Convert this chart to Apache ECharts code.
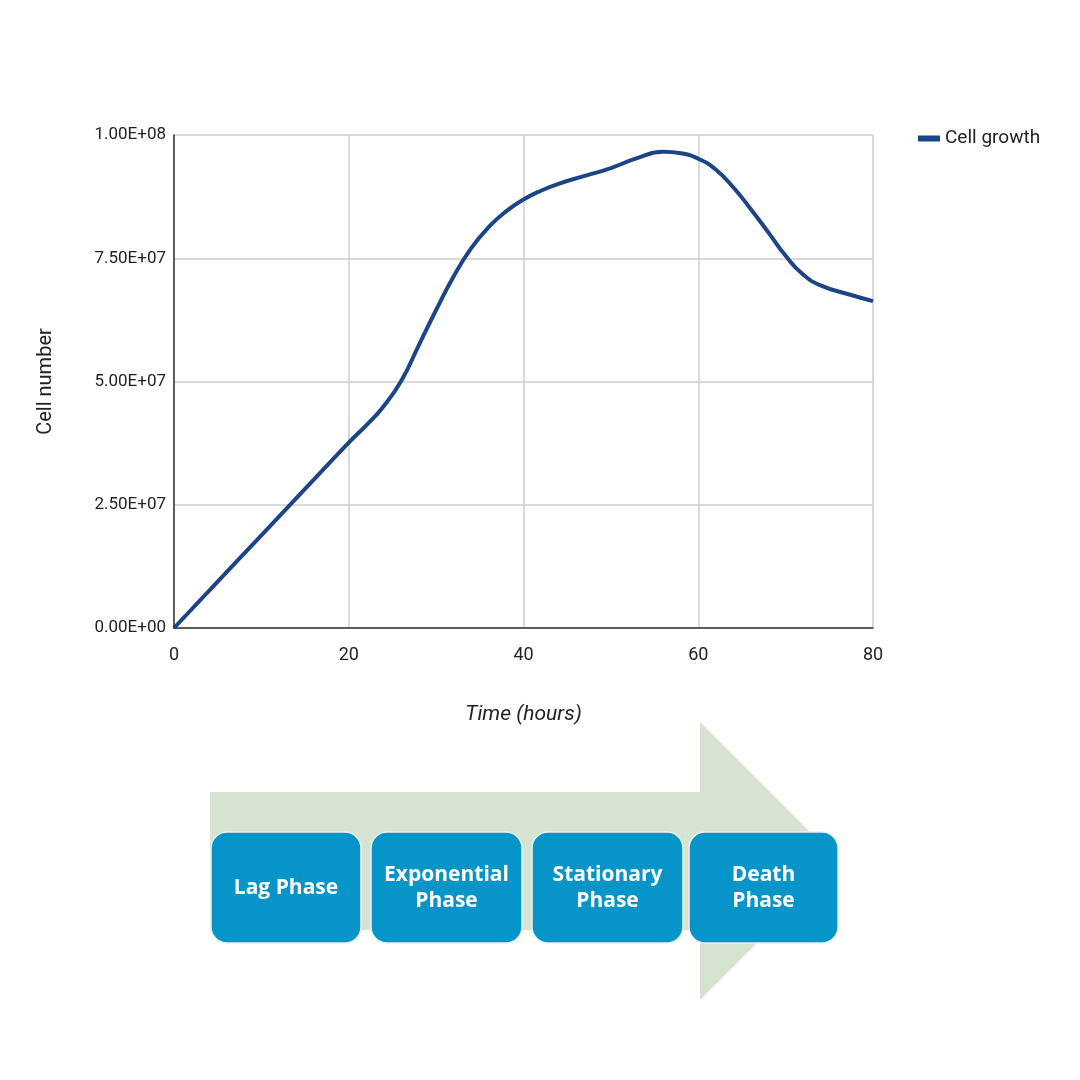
<!DOCTYPE html>
<html><head><meta charset="utf-8">
<script src="https://cdn.jsdelivr.net/npm/echarts@6/dist/echarts.min.js"></script>
<style>html,body{margin:0;padding:0;background:#fff}#c{width:1080px;height:1080px}</style>
</head><body><div id="c"></div>
<script>
var hours = [0, 5, 10, 15, 20, 22, 24, 26, 28, 30, 32, 34, 36, 38, 40, 42, 44, 47, 50, 53, 56, 58, 60, 62, 64, 66, 68, 70, 72, 74, 77, 80];
var cells = [0, 9.4e6, 18.8e6, 28.2e6, 37.6e6, 41.1e6, 45.0e6, 50.1e6, 57.3e6, 64.5e6, 71.3e6, 77.0e6, 81.3e6, 84.5e6, 86.9e6, 88.7e6, 90.1e6, 91.7e6, 93.3e6, 95.3e6, 96.6e6, 96.3e6, 95.2e6, 93.0e6, 89.4e6, 85.0e6, 80.3e6, 75.5e6, 71.7e6, 69.5e6, 67.8e6, 66.3e6];
var yTickLabels = ['0.00E+00', '2.50E+07', '5.00E+07', '7.50E+07', '1.00E+08'];
var xTickLabels = ['0', '20', '40', '60', '80'];
var phases = ['Lag Phase', 'Exponential\nPhase', 'Stationary\nPhase', 'Death\nPhase'];
var seriesName = 'Cell growth';

var chart = echarts.init(document.getElementById('c'));
var boxX = [211, 371, 532, 689];
var boxW = [150, 151, 151, 149];
var graphics = [{
  type: 'polygon', z: 0,
  shape: { points: [[210, 792], [700, 792], [700, 722], [839, 861], [700, 1000], [700, 930], [210, 930]] },
  style: { fill: '#d5e3d0' }
}];
phases.forEach(function (p, i) {
  graphics.push({
    type: 'rect', z: 1,
    shape: { x: boxX[i], y: 832, width: boxW[i], height: 111, r: 16 },
    style: { fill: '#0795c9', stroke: '#e8f2f6', lineWidth: 1.5 }
  });
  graphics.push({
    type: 'text', z: 2,
    style: {
      x: boxX[i] + boxW[i] / 2, y: 888, text: p, fill: '#ffffff',
      font: 'bold 21px "Open Sans", sans-serif', align: 'center', verticalAlign: 'middle', lineHeight: 26
    }
  });
});

chart.setOption({
  animation: false,
  backgroundColor: '#ffffff',
  grid: { left: 174, right: 207, top: 135, bottom: 452 },
  legend: {
    data: [seriesName], left: 913, top: 124, itemWidth: 22, itemHeight: 6, itemGap: 12,
    icon: 'rect',
    textStyle: { fontFamily: 'Roboto', fontSize: 19, color: '#222' }
  },
  xAxis: {
    type: 'value', min: 0, max: 80, interval: 20,
    name: 'Time (hours)', nameLocation: 'middle', nameGap: 76,
    nameTextStyle: { fontFamily: 'Roboto', fontSize: 21, fontStyle: 'italic', color: '#222' },
    axisLine: { show: true, lineStyle: { color: '#333', width: 1.5 } },
    axisTick: { show: false },
    axisLabel: {
      margin: 18, fontFamily: 'Roboto', fontSize: 18, color: '#222',
      formatter: function (v) { return xTickLabels[Math.round(v / 20)]; }
    },
    splitLine: { show: true, lineStyle: { color: '#cccccc', width: 1.5 } }
  },
  yAxis: {
    type: 'value', min: 0, max: 1e8, interval: 2.5e7,
    name: 'Cell number', nameLocation: 'middle', nameGap: 118, nameRotate: 90,
    nameTextStyle: { fontFamily: 'Roboto', fontSize: 20, color: '#222' },
    axisLine: { show: true, lineStyle: { color: '#333', width: 1.5 } },
    axisTick: { show: false },
    axisLabel: {
      margin: 8, fontFamily: 'Roboto', fontSize: 17, color: '#222',
      formatter: function (v) { return yTickLabels[Math.round(v / 2.5e7)]; }
    },
    splitLine: { show: true, lineStyle: { color: '#cccccc', width: 1.5 } }
  },
  series: [{
    name: seriesName, type: 'line', smooth: 0.5, showSymbol: false,
    data: hours.map(function (h, i) { return [h, cells[i]]; }),
    lineStyle: { color: '#1c4587', width: 4 },
    itemStyle: { color: '#1c4587' }
  }],
  graphic: graphics
});
</script></body></html>
